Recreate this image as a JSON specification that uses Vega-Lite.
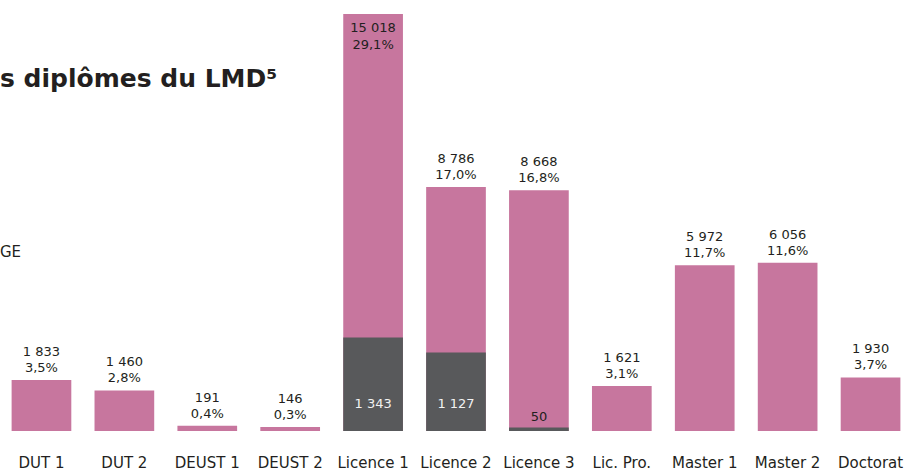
{
  "$schema": "https://vega.github.io/schema/vega-lite/v6.json",
  "width": 912,
  "height": 431,
  "autosize": {"type": "none"},
  "padding": {"left": 0, "top": 0, "right": 0, "bottom": 39},
  "background": "white",
  "config": {
    "view": {"stroke": null},
    "locale": {"number": {"decimal": ",", "thousands": " ", "grouping": [3], "currency": ["", " €"]}},
    "text": {"font": "DejaVu Sans", "fontSize": 13, "color": "#231F20"}
  },
  "title": {
    "text": "s diplômes du LMD⁵",
    "orient": "bottom",
    "font": "DejaVu Sans",
    "fontSize": 25,
    "fontWeight": "bold",
    "color": "#231F20",
    "anchor": "start",
    "frame": "group",
    "baseline": "top",
    "offset": -403,
    "subtitle": "GE",
    "subtitleFont": "DejaVu Sans",
    "subtitleFontSize": 15,
    "subtitleColor": "#231F20",
    "subtitlePadding": 153
  },
  "data": {"values": [
    {"name": "DUT 1", "value": 1833, "pct": 0.035, "dark": null},
    {"name": "DUT 2", "value": 1460, "pct": 0.028, "dark": null},
    {"name": "DEUST 1", "value": 191, "pct": 0.004, "dark": null},
    {"name": "DEUST 2", "value": 146, "pct": 0.003, "dark": null},
    {"name": "Licence 1", "value": 15018, "pct": 0.291, "dark": 1343},
    {"name": "Licence 2", "value": 8786, "pct": 0.170, "dark": 1127},
    {"name": "Licence 3", "value": 8668, "pct": 0.168, "dark": 50},
    {"name": "Lic. Pro.", "value": 1621, "pct": 0.031, "dark": null},
    {"name": "Master 1", "value": 5972, "pct": 0.117, "dark": null},
    {"name": "Master 2", "value": 6056, "pct": 0.116, "dark": null},
    {"name": "Doctorat", "value": 1930, "pct": 0.037, "dark": null}
  ]},
  "encoding": {
    "x": {
      "field": "name", "type": "nominal", "sort": null,
      "scale": {"paddingInner": 0.28, "paddingOuter": 0.14},
      "axis": {"title": null, "domain": false, "ticks": false, "labelAngle": 0,
               "labelFont": "DejaVu Sans", "labelFontSize": 15, "labelColor": "#231F20",
               "labelPadding": 24}
    }
  },
  "resolve": {"scale": {"y": "independent"}},
  "layer": [
    {
      "layer": [
        {
          "mark": {"type": "bar", "color": "#C7769E"},
          "encoding": {"y": {"field": "value", "type": "quantitative", "scale": {"domain": [0, 15522], "nice": false}, "axis": null}}
        },
        {
          "transform": [{"filter": "datum.value < 14000"}],
          "mark": {"type": "text", "baseline": "middle", "dy": -28},
          "encoding": {"y": {"field": "value", "type": "quantitative"}, "text": {"field": "value", "type": "quantitative", "format": ","}}
        },
        {
          "transform": [{"filter": "datum.value < 14000"}],
          "mark": {"type": "text", "baseline": "middle", "dy": -12},
          "encoding": {"y": {"field": "value", "type": "quantitative"}, "text": {"field": "pct", "type": "quantitative", "format": ".1%"}}
        },
        {
          "transform": [{"filter": "datum.value >= 14000"}],
          "mark": {"type": "text", "baseline": "middle", "dy": 14},
          "encoding": {"y": {"field": "value", "type": "quantitative"}, "text": {"field": "value", "type": "quantitative", "format": ","}}
        },
        {
          "transform": [{"filter": "datum.value >= 14000"}],
          "mark": {"type": "text", "baseline": "middle", "dy": 31},
          "encoding": {"y": {"field": "value", "type": "quantitative"}, "text": {"field": "pct", "type": "quantitative", "format": ".1%"}}
        }
      ]
    },
    {
      "transform": [{"filter": "datum.dark != null"}],
      "layer": [
        {
          "mark": {"type": "bar", "color": "#58595B"},
          "encoding": {"y": {"field": "dark", "type": "quantitative", "scale": {"domain": [0, 6184], "nice": false}, "axis": null}}
        },
        {
          "transform": [{"filter": "datum.dark >= 100"}],
          "mark": {"type": "text", "baseline": "middle", "dy": -27, "color": "#F2F2F2"},
          "encoding": {"y": {"datum": 0, "type": "quantitative"}, "text": {"field": "dark", "type": "quantitative", "format": ","}}
        },
        {
          "transform": [{"filter": "datum.dark < 100"}],
          "mark": {"type": "text", "baseline": "middle", "dy": -14},
          "encoding": {"y": {"datum": 0, "type": "quantitative"}, "text": {"field": "dark", "type": "quantitative", "format": ","}}
        }
      ]
    }
  ]
}
